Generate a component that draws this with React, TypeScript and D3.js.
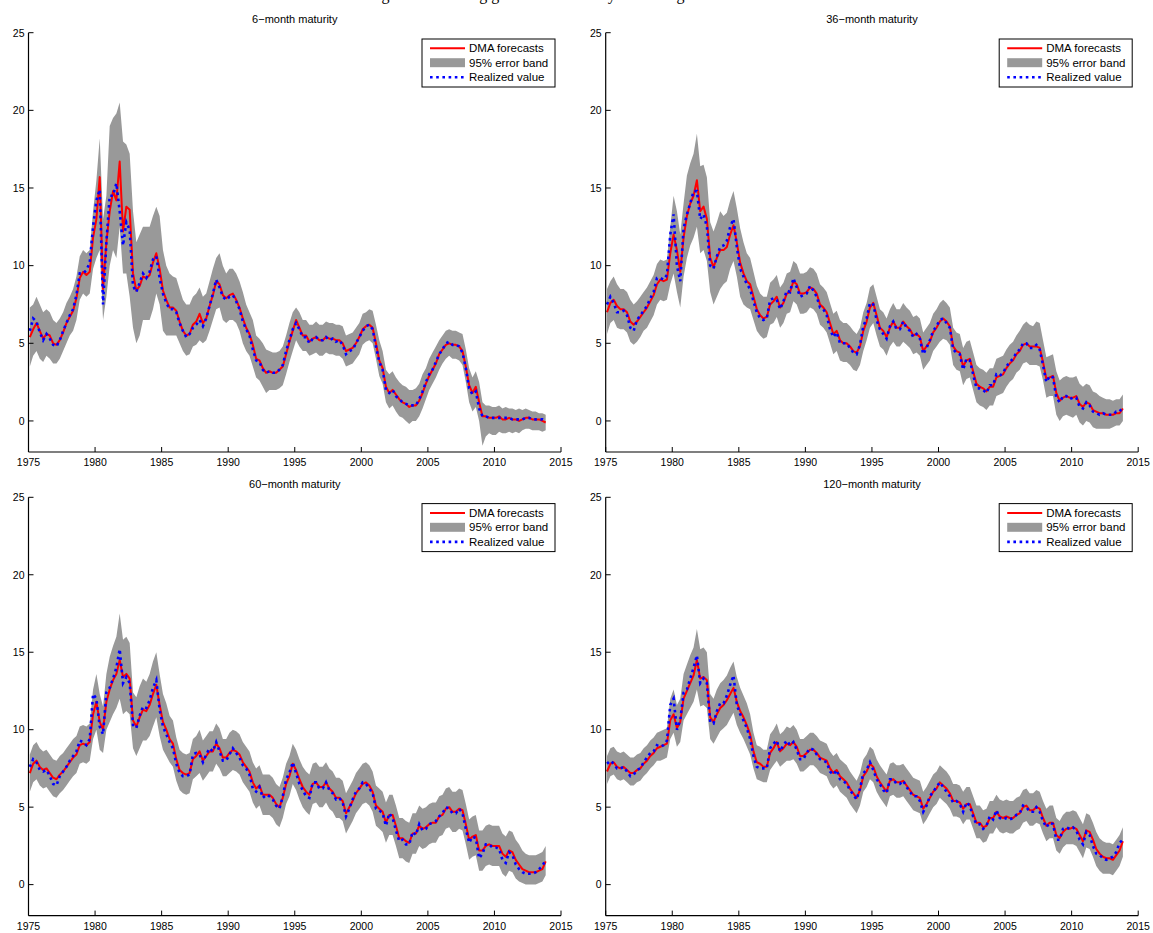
import React from "react";
import * as d3 from "d3";

// Quarterly observation grid: first observation and spacing (years)
const START = 1975.1;
const STEP = 0.25;

const xTickValues = [1975, 1980, 1985, 1990, 1995, 2000, 2005, 2010, 2015];
const yTickValues = [0, 5, 10, 15, 20, 25];
const legendLabels = ["DMA forecasts", "95% error band", "Realized value"];
const panelTitles = ["6\u2212month maturity", "36\u2212month maturity", "60\u2212month maturity", "120\u2212month maturity"];

// ---------- 6-month maturity ----------
const m6Forecast = [
  5.4, 5.9, 6.3, 5.8, 5.3, 5.6, 5.5, 5.0, 4.9, 5.2, 5.7, 6.3, 6.7, 7.1, 7.9, 9.2,
  9.6, 9.4, 9.6, 11.8, 13.0, 15.7, 8.5, 11.5, 13.5, 14.8, 14.2, 16.7, 12.2, 13.8, 13.6, 9.5,
  8.4, 8.7, 9.3, 9.2, 9.4, 10.2, 10.8, 9.8, 8.4, 7.8, 7.3, 7.3, 7.1, 6.4, 5.8, 5.5,
  5.6, 6.2, 6.4, 6.9, 6.3, 6.6, 7.4, 8.1, 9.0, 8.8, 8.1, 7.9, 8.1, 8.2, 7.8, 7.3,
  6.6, 6.0, 5.6, 4.9, 4.0, 3.9, 3.4, 3.1, 3.2, 3.1, 3.1, 3.3, 3.5, 4.3, 5.1, 5.8,
  6.5, 6.0, 5.5, 5.5, 5.1, 5.3, 5.4, 5.2, 5.2, 5.4, 5.3, 5.3, 5.2, 5.2, 5.0, 4.5,
  4.6, 4.7, 5.0, 5.4, 5.9, 6.1, 6.2, 6.0, 5.0, 3.9, 3.4, 2.2, 1.8, 2.0, 1.7, 1.4,
  1.2, 1.1, 0.9, 1.0, 1.0, 1.3, 1.8, 2.4, 2.9, 3.3, 3.7, 4.3, 4.6, 4.9, 5.0, 4.9,
  4.9, 4.8, 4.5, 3.5, 2.3, 1.8, 2.2, 1.2, 0.3, 0.3, 0.2, 0.2, 0.2, 0.3, 0.1, 0.1,
  0.2, 0.1, 0.1, 0.0, 0.1, 0.2, 0.2, 0.1, 0.1, 0.1, 0.0, -0.1,
];
const m6Realized = [
  5.8, 6.6, 6.4, 5.7, 5.2, 5.6, 5.3, 4.9, 4.8, 5.2, 5.8, 6.3, 6.8, 7.2, 8.1, 9.5,
  9.5, 9.7, 10.2, 12.5, 14.2, 14.9, 7.5, 11.5, 14.5, 14.5, 15.3, 13.5, 11.3, 12.8, 12.3, 8.7,
  8.3, 8.9, 9.5, 9.2, 9.6, 10.4, 10.6, 9.2, 8.2, 7.6, 7.2, 7.2, 7.0, 6.3, 5.8, 5.4,
  5.6, 6.0, 6.2, 6.5, 6.1, 6.6, 7.4, 8.2, 9.1, 8.6, 8.0, 7.8, 8.0, 8.1, 7.7, 7.2,
  6.4, 5.9, 5.5, 4.6, 3.9, 3.8, 3.3, 3.1, 3.2, 3.1, 3.1, 3.3, 3.6, 4.5, 5.2, 5.9,
  6.3, 5.9, 5.4, 5.4, 5.0, 5.3, 5.4, 5.2, 5.2, 5.4, 5.2, 5.3, 5.1, 5.2, 4.9, 4.3,
  4.5, 4.6, 5.0, 5.4, 5.8, 6.1, 6.2, 5.9, 4.8, 3.8, 3.3, 2.0, 1.8, 2.0, 1.6, 1.4,
  1.2, 1.1, 1.0, 1.0, 1.0, 1.4, 1.9, 2.5, 3.0, 3.3, 3.8, 4.3, 4.6, 5.0, 5.1, 4.9,
  4.9, 4.8, 4.4, 3.4, 2.1, 1.7, 1.9, 0.8, 0.3, 0.3, 0.2, 0.2, 0.2, 0.2, 0.2, 0.2,
  0.2, 0.1, 0.1, 0.1, 0.1, 0.2, 0.2, 0.1, 0.1, 0.1, 0.1, 0.0,
];
const m6Lower = [
  3.5, 4.2, 4.5, 4.0, 3.8, 4.2, 4.0, 3.7, 3.7, 4.0, 4.5, 5.0, 5.5, 5.8, 6.5, 7.8,
  8.2, 8.0, 8.2, 9.8, 10.5, 11.0, 6.5, 8.0, 10.0, 11.0, 10.5, 12.5, 9.5, 9.5, 8.0, 6.0,
  5.0, 5.5, 6.5, 6.5, 6.5, 7.2, 8.2, 7.5, 5.8, 5.5, 5.5, 5.5, 5.5, 5.0, 4.5, 4.2,
  4.3, 4.8, 4.9, 5.2, 5.0, 5.2, 5.8, 6.5, 7.2, 7.3, 6.5, 6.3, 6.5, 6.5, 6.3, 5.8,
  5.0, 4.5, 4.2, 3.5, 2.8, 2.6, 2.2, 1.8, 2.0, 2.0, 2.0, 2.1, 2.3, 3.0, 3.8, 4.5,
  5.2, 4.8, 4.5, 4.5, 4.2, 4.3, 4.4, 4.2, 4.2, 4.4, 4.3, 4.3, 4.2, 4.2, 4.0, 3.5,
  3.6, 3.7, 4.0, 4.3, 4.9, 5.1, 5.2, 5.0, 4.0, 2.9, 2.4, 1.2, 0.8, 1.0, 0.6, 0.3,
  0.2, 0.0, -0.2, 0.0, 0.0, 0.3, 0.8, 1.4, 2.0, 2.4, 2.8, 3.3, 3.7, 4.0, 4.2, 4.0,
  4.0, 3.9, 3.6, 2.5, 1.2, 0.6, 0.9, 0.0, -1.6, -1.0, -0.8, -0.9, -0.9, -0.7, -0.8, -0.8,
  -0.7, -0.8, -0.7, -0.8, -0.6, -0.5, -0.5, -0.6, -0.6, -0.6, -0.7, -0.6,
];
const m6Upper = [
  7.3, 7.5, 8.0, 7.5, 7.0, 7.2, 7.0, 6.5, 6.3, 6.6, 7.0, 7.6, 8.0, 8.5, 9.3, 10.6,
  11.0, 10.8, 11.0, 13.5, 15.5, 18.2, 13.0, 14.5, 19.0, 19.5, 19.8, 20.5, 18.0, 17.8, 17.2, 13.5,
  11.5, 12.0, 12.5, 12.5, 12.5, 13.2, 13.8, 13.2, 11.0, 10.0, 9.5, 9.3, 9.2, 8.5, 7.8, 7.5,
  7.5, 8.0, 8.2, 8.6, 8.0, 8.2, 9.0, 9.8, 10.5, 10.8, 10.0, 9.5, 9.8, 9.8, 9.5, 9.0,
  8.3, 7.5, 7.0, 6.5, 5.5, 5.3, 5.0, 4.6, 4.5, 4.4, 4.4, 4.5, 4.8, 5.5, 6.3, 7.0,
  7.3, 7.0, 6.5, 6.5, 6.2, 6.2, 6.4, 6.2, 6.2, 6.4, 6.3, 6.3, 6.2, 6.2, 6.1, 5.5,
  5.6, 5.7, 6.0, 6.3, 6.9, 7.0, 7.2, 7.1, 6.2, 5.2, 4.5, 3.3, 3.0, 3.2, 2.8, 2.5,
  2.3, 2.2, 2.0, 2.0, 2.1, 2.4, 3.0, 3.4, 4.0, 4.4, 4.8, 5.2, 5.5, 5.8, 5.9, 5.8,
  5.8, 5.7, 5.6, 4.6, 3.4, 2.8, 3.2, 2.5, 1.2, 1.0, 1.0, 0.9, 0.9, 1.0, 0.8, 0.9,
  0.8, 0.8, 0.7, 0.8, 0.7, 0.8, 0.7, 0.6, 0.6, 0.5, 0.5, 0.4,
];

// ---------- 36-month maturity ----------
const m36Forecast = [
  7.0, 7.6, 7.8, 7.4, 7.2, 7.2, 7.0, 6.4, 6.2, 6.4, 6.7, 7.0, 7.3, 7.7, 8.1, 8.8,
  9.1, 9.0, 9.1, 10.8, 12.0, 11.0, 9.6, 11.8, 13.2, 14.0, 14.5, 15.5, 13.5, 13.8, 13.0, 10.5,
  9.9, 10.5, 11.0, 11.0, 11.2, 12.0, 12.6, 11.5, 10.2, 9.5, 9.0, 8.8, 8.0, 7.2, 6.8, 6.6,
  6.7, 7.5, 7.7, 8.0, 7.3, 7.6, 8.2, 8.3, 9.0, 8.8, 8.2, 8.2, 8.3, 8.6, 8.5, 8.2,
  7.5, 7.3, 7.0, 6.3, 5.6, 5.8, 5.2, 5.0, 5.0, 4.8, 4.5, 4.4, 4.8, 5.8, 6.4, 7.3,
  7.6, 6.8, 6.0, 5.8, 5.4, 6.0, 6.4, 6.0, 6.0, 6.4, 6.1, 5.9, 5.5, 5.6, 5.4, 4.5,
  4.8, 5.1, 5.7, 6.0, 6.4, 6.6, 6.4, 6.1, 4.8, 4.5, 4.4, 3.5, 3.9, 4.0, 3.2, 2.4,
  2.2, 2.1, 1.9, 2.2, 2.2, 2.8, 2.9, 3.0, 3.4, 3.7, 3.9, 4.3, 4.5, 4.9, 5.0, 4.8,
  4.8, 4.8, 4.7, 3.8, 2.7, 2.8, 2.9, 1.8, 1.3, 1.5, 1.6, 1.5, 1.5, 1.6, 1.1, 0.9,
  1.2, 1.1, 0.7, 0.6, 0.5, 0.5, 0.4, 0.4, 0.4, 0.5, 0.5, 0.8,
];
const m36Realized = [
  7.5, 8.0, 7.6, 7.0, 7.0, 7.1, 6.8, 6.0, 5.8, 6.5, 6.8, 7.1, 7.4, 7.9, 8.3, 9.2,
  9.2, 9.1, 9.4, 12.0, 13.3, 10.0, 9.0, 12.4, 13.3, 14.0, 14.8, 14.8, 13.0, 13.3, 12.5, 10.0,
  9.8, 10.6, 11.2, 11.3, 11.6, 12.5, 13.0, 11.2, 9.8, 9.3, 8.8, 8.5, 7.7, 7.0, 6.6, 6.5,
  6.6, 7.8, 7.9, 7.8, 7.2, 7.7, 8.4, 8.3, 9.2, 8.6, 8.0, 8.1, 8.2, 8.7, 8.4, 8.0,
  7.3, 7.2, 6.8, 5.9, 5.4, 5.7, 5.0, 5.0, 5.0, 4.7, 4.4, 4.3, 4.9, 6.1, 6.6, 7.6,
  7.5, 6.5, 5.9, 5.6, 5.3, 6.1, 6.4, 5.9, 5.9, 6.4, 6.0, 5.8, 5.4, 5.6, 5.3, 4.3,
  4.7, 5.2, 5.8, 6.1, 6.5, 6.6, 6.3, 6.0, 4.6, 4.4, 4.3, 3.3, 4.0, 3.9, 3.0, 2.1,
  2.1, 2.0, 1.8, 2.3, 2.3, 3.0, 2.9, 3.1, 3.5, 3.8, 4.0, 4.4, 4.6, 5.0, 5.0, 4.7,
  4.7, 4.9, 4.6, 3.6, 2.5, 2.9, 2.8, 1.5, 1.2, 1.6, 1.6, 1.4, 1.5, 1.5, 0.9, 0.8,
  1.2, 1.0, 0.6, 0.5, 0.4, 0.5, 0.4, 0.4, 0.4, 0.6, 0.6, 0.9,
];
const m36Lower = [
  5.6, 6.3, 6.5, 6.0, 5.9, 5.9, 5.7, 5.1, 4.9, 5.1, 5.4, 5.8, 6.0, 6.4, 6.8, 7.5,
  7.8, 7.7, 7.8, 8.8, 9.5, 8.3, 7.3, 9.3, 10.5, 11.3, 11.8, 12.5, 10.8, 11.0, 10.3, 8.3,
  7.5, 8.0, 8.5, 8.8, 9.0, 9.8, 10.3, 9.3, 8.0, 7.5, 7.3, 7.2, 6.5, 5.8, 5.5, 5.3,
  5.4, 6.2, 6.3, 6.7, 6.0, 6.3, 6.9, 7.0, 7.7, 7.5, 6.9, 6.9, 7.0, 7.3, 7.2, 6.9,
  6.2, 6.0, 5.7, 5.0, 4.3, 4.5, 3.9, 3.8, 3.8, 3.6, 3.3, 3.2, 3.6, 4.5, 5.2, 6.0,
  6.3, 5.5, 4.8, 4.6, 4.2, 4.8, 5.1, 4.8, 4.8, 5.1, 4.9, 4.7, 4.3, 4.4, 4.2, 3.3,
  3.6, 3.9, 4.5, 4.8, 5.1, 5.3, 5.2, 4.9, 3.6, 3.3, 3.2, 2.3, 2.7, 2.8, 2.0, 1.2,
  1.0, 0.9, 0.7, 1.0, 1.0, 1.6, 1.7, 1.8, 2.2, 2.5, 2.7, 3.1, 3.3, 3.7, 3.8, 3.6,
  3.6, 3.6, 3.5, 2.6, 1.5, 1.6, 1.6, 0.4, 0.0, 0.3, 0.4, 0.3, 0.2, 0.4, -0.1, -0.3,
  0.0, -0.1, -0.4, -0.5, -0.5, -0.5, -0.5, -0.5, -0.4, -0.3, -0.3, 0.0,
];
const m36Upper = [
  8.5, 9.0, 9.3, 8.8, 8.5, 8.5, 8.3, 7.8, 7.5, 7.7, 8.0, 8.3, 8.6, 9.0, 9.4, 10.1,
  10.4, 10.3, 10.4, 12.5, 14.5, 13.5, 12.0, 14.0, 15.8, 16.6, 17.2, 18.5, 16.4, 16.5, 15.7, 12.8,
  12.2, 12.8, 13.5, 13.2, 13.4, 14.2, 14.8, 13.7, 12.4, 11.5, 10.8, 10.5, 9.6, 8.7, 8.2, 8.0,
  8.0, 8.9, 9.1, 9.4, 8.6, 8.9, 9.5, 9.6, 10.3, 10.1, 9.5, 9.5, 9.6, 9.9, 9.8, 9.5,
  8.8, 8.6, 8.3, 7.6, 6.9, 7.1, 6.5, 6.3, 6.3, 6.1, 5.8, 5.6, 6.0, 7.0, 7.6, 8.6,
  8.8, 8.0, 7.2, 7.0, 6.6, 7.2, 7.6, 7.2, 7.2, 7.6, 7.3, 7.1, 6.7, 6.8, 6.6, 5.7,
  6.0, 6.3, 6.9, 7.2, 7.6, 7.8, 7.6, 7.3, 6.0, 5.7, 5.6, 4.7, 5.1, 5.2, 4.4, 3.6,
  3.4, 3.3, 3.1, 3.4, 3.4, 4.0, 4.1, 4.2, 4.6, 4.9, 5.1, 5.5, 5.8, 6.2, 6.4, 6.2,
  6.1, 6.4, 6.3, 5.2, 4.1, 4.2, 4.3, 3.2, 2.6, 2.8, 2.9, 2.8, 2.8, 2.9, 2.4, 2.2,
  2.4, 2.3, 1.9, 1.8, 1.6, 1.5, 1.4, 1.4, 1.3, 1.4, 1.4, 1.7,
];

// ---------- 60-month maturity ----------
const m60Forecast = [
  7.2, 7.8, 8.0, 7.6, 7.4, 7.5, 7.2, 6.9, 6.8, 7.1, 7.3, 7.6, 7.9, 8.2, 8.4, 9.0,
  9.1, 9.0, 9.2, 11.0, 11.8, 10.5, 10.0, 11.8, 12.6, 13.2, 13.6, 14.5, 13.4, 13.6, 13.3, 10.6,
  10.2, 10.8, 11.3, 11.2, 11.6, 12.3, 12.9, 11.6, 10.5, 10.0, 9.4, 9.1, 8.1, 7.4, 7.2, 7.1,
  7.2, 8.1, 8.3, 8.6, 8.0, 8.3, 8.6, 8.6, 9.1, 8.8, 8.2, 8.2, 8.5, 8.7, 8.6, 8.4,
  7.9, 7.6, 7.3, 6.6, 6.2, 6.4, 5.8, 5.8, 5.8, 5.6, 5.2, 5.0, 5.6, 6.5, 7.0, 7.8,
  7.4, 6.8, 6.3, 6.0, 5.8, 6.5, 6.6, 6.3, 6.3, 6.6, 6.2, 6.0, 5.6, 5.6, 5.4, 4.6,
  5.0, 5.4, 5.9, 6.2, 6.5, 6.6, 6.4, 6.0, 5.1, 4.9, 4.7, 4.0, 4.5, 4.5, 3.8, 3.0,
  3.0, 2.8, 2.7, 3.3, 3.3, 3.8, 3.6, 3.7, 3.9, 4.0, 4.0, 4.4, 4.5, 4.9, 5.0, 4.7,
  4.7, 4.9, 4.8, 3.9, 2.9, 3.1, 3.2, 2.2, 2.2, 2.5, 2.6, 2.5, 2.5, 2.5, 2.0, 1.8,
  2.2, 2.1, 1.6, 1.3, 1.0, 0.9, 0.8, 0.8, 0.8, 0.9, 1.0, 1.5,
];
const m60Realized = [
  7.6, 8.1, 7.9, 7.4, 7.3, 7.4, 7.0, 6.5, 6.4, 7.0, 7.3, 7.6, 8.0, 8.3, 8.6, 9.3,
  9.2, 9.0, 9.4, 12.3, 12.0, 10.2, 9.7, 12.4, 12.7, 13.3, 14.0, 15.2, 13.0, 13.4, 13.0, 10.3,
  10.1, 10.9, 11.5, 11.4, 11.9, 12.7, 13.2, 11.3, 10.2, 9.7, 9.2, 8.8, 7.8, 7.2, 7.0, 7.0,
  7.1, 8.4, 8.5, 8.4, 7.9, 8.4, 8.8, 8.6, 9.2, 8.6, 8.0, 8.0, 8.4, 8.8, 8.5, 8.2,
  7.7, 7.5, 7.1, 6.2, 6.0, 6.3, 5.6, 5.8, 5.7, 5.5, 5.1, 4.9, 5.7, 6.8, 7.2, 7.9,
  7.2, 6.5, 6.1, 5.7, 5.6, 6.6, 6.6, 6.2, 6.2, 6.6, 6.1, 5.9, 5.5, 5.6, 5.3, 4.4,
  4.9, 5.5, 6.0, 6.2, 6.6, 6.5, 6.2, 5.9, 4.9, 4.8, 4.6, 3.8, 4.6, 4.3, 3.5, 2.8,
  2.9, 2.6, 2.6, 3.4, 3.2, 3.9, 3.5, 3.6, 3.9, 4.0, 4.1, 4.4, 4.6, 5.0, 4.9, 4.6,
  4.6, 4.9, 4.6, 3.6, 2.7, 3.1, 3.0, 1.7, 2.0, 2.6, 2.6, 2.4, 2.4, 2.3, 1.6, 1.4,
  2.1, 1.9, 1.3, 1.0, 0.8, 0.7, 0.7, 0.7, 0.8, 1.0, 1.2, 1.6,
];
const m60Lower = [
  6.0, 6.6, 6.8, 6.4, 6.2, 6.3, 6.0, 5.7, 5.6, 5.9, 6.1, 6.4, 6.7, 7.0, 7.2, 7.8,
  7.9, 7.8, 8.0, 9.4, 10.0, 8.7, 8.5, 10.0, 10.5, 11.0, 11.4, 12.0, 11.0, 11.2, 11.0, 8.8,
  8.3, 8.8, 9.3, 9.3, 9.6, 10.2, 10.8, 9.6, 8.7, 8.3, 7.9, 7.6, 6.7, 6.1, 5.9, 5.8,
  5.9, 6.8, 7.0, 7.2, 6.7, 7.0, 7.3, 7.3, 7.8, 7.5, 7.0, 7.0, 7.2, 7.4, 7.3, 7.1,
  6.6, 6.3, 6.0, 5.3, 4.9, 5.1, 4.5, 4.5, 4.5, 4.3, 3.9, 3.7, 4.3, 5.2, 5.7, 6.5,
  6.1, 5.5, 5.0, 4.7, 4.5, 5.2, 5.3, 5.0, 5.0, 5.3, 4.9, 4.7, 4.3, 4.3, 4.1, 3.3,
  3.7, 4.1, 4.6, 4.9, 5.2, 5.3, 5.1, 4.7, 3.8, 3.6, 3.4, 2.7, 3.2, 3.2, 2.5, 1.7,
  1.7, 1.5, 1.4, 2.0, 2.0, 2.5, 2.3, 2.4, 2.6, 2.7, 2.7, 3.1, 3.2, 3.6, 3.7, 3.4,
  3.4, 3.6, 3.5, 2.6, 1.6, 1.8, 1.9, 0.9, 0.9, 1.2, 1.3, 1.2, 1.2, 1.2, 0.7, 0.5,
  0.9, 0.8, 0.4, 0.2, 0.1, 0.0, 0.0, 0.0, 0.0, 0.1, 0.2, 0.6,
];
const m60Upper = [
  8.4, 9.0, 9.2, 8.8, 8.6, 8.7, 8.4, 8.1, 8.0, 8.3, 8.5, 8.8, 9.1, 9.4, 9.6, 10.2,
  10.3, 10.2, 10.4, 12.6, 13.6, 12.3, 11.5, 13.6, 14.7, 15.4, 16.0, 17.5, 15.8, 16.0, 15.6, 12.4,
  12.1, 12.8, 13.3, 13.1, 13.6, 14.4, 15.0, 13.6, 12.3, 11.7, 10.9, 10.6, 9.5, 8.7, 8.5, 8.4,
  8.5, 9.4, 9.6, 10.0, 9.3, 9.6, 9.9, 9.9, 10.4, 10.1, 9.4, 9.4, 9.8, 10.0, 9.9, 9.7,
  9.2, 8.9, 8.6, 7.9, 7.5, 7.7, 7.1, 7.1, 7.1, 6.9, 6.5, 6.3, 6.9, 7.8, 8.3, 9.1,
  8.7, 8.1, 7.6, 7.3, 7.1, 7.8, 7.9, 7.6, 7.6, 7.9, 7.5, 7.3, 6.9, 6.9, 6.7, 5.9,
  6.3, 6.7, 7.2, 7.5, 7.8, 7.9, 7.7, 7.3, 6.4, 6.2, 6.0, 5.3, 5.8, 5.8, 5.1, 4.3,
  4.3, 4.1, 4.0, 4.6, 4.6, 5.1, 4.9, 5.0, 5.2, 5.3, 5.3, 5.7, 5.8, 6.2, 6.3, 6.0,
  6.0, 6.2, 6.1, 5.2, 4.2, 4.4, 4.5, 3.5, 3.5, 3.8, 3.9, 3.8, 3.8, 3.8, 3.3, 3.1,
  3.5, 3.4, 2.9, 2.6, 2.2, 2.0, 1.9, 1.9, 1.9, 2.0, 2.1, 2.5,
];

// ---------- 120-month maturity ----------
const m120Forecast = [
  7.3, 7.8, 7.9, 7.6, 7.5, 7.6, 7.4, 7.2, 7.2, 7.4, 7.5, 7.8, 8.0, 8.3, 8.5, 8.8,
  8.9, 9.0, 9.1, 10.6, 11.0, 10.1, 10.5, 12.0, 12.5, 13.0, 13.5, 14.5, 13.3, 13.4, 13.2, 10.8,
  10.5, 11.0, 11.4, 11.6, 11.9, 12.3, 12.7, 11.8, 11.2, 10.8, 10.3, 9.7, 8.6, 7.9, 7.8, 7.6,
  7.6, 8.5, 8.8, 9.2, 8.6, 8.8, 9.1, 9.0, 9.2, 8.9, 8.3, 8.3, 8.5, 8.7, 8.7, 8.5,
  8.2, 8.1, 8.0, 7.5, 7.2, 7.4, 7.0, 6.8, 6.6, 6.2, 5.9, 5.6, 6.1, 7.0, 7.3, 7.8,
  7.6, 7.0, 6.6, 6.3, 6.0, 6.7, 6.8, 6.6, 6.6, 6.7, 6.4, 6.1, 5.8, 5.7, 5.6, 4.9,
  5.2, 5.6, 6.0, 6.2, 6.6, 6.4, 6.2, 5.9, 5.4, 5.4, 5.3, 4.9, 5.2, 5.2, 4.6, 4.0,
  4.0, 3.7, 3.8, 4.3, 4.3, 4.7, 4.4, 4.3, 4.4, 4.3, 4.3, 4.5, 4.6, 5.0, 5.1, 4.8,
  4.8, 5.0, 4.9, 4.3, 3.8, 4.0, 4.0, 3.2, 3.0, 3.4, 3.6, 3.6, 3.7, 3.6, 3.2, 2.8,
  3.5, 3.4, 2.9, 2.3, 2.0, 1.8, 1.7, 1.7, 1.6, 1.9, 2.2, 2.8,
];
const m120Realized = [
  7.8, 8.0, 7.8, 7.5, 7.5, 7.6, 7.3, 7.0, 7.1, 7.4, 7.5, 7.9, 8.2, 8.5, 8.6, 9.0,
  8.9, 9.0, 9.3, 11.6, 12.0, 10.0, 10.6, 12.4, 12.6, 13.3, 14.0, 14.8, 13.0, 13.3, 13.0, 10.5,
  10.4, 11.2, 11.7, 11.7, 12.2, 12.9, 13.5, 11.6, 11.0, 10.6, 10.1, 9.4, 8.3, 7.6, 7.5, 7.5,
  7.5, 8.8, 9.1, 9.3, 8.6, 9.0, 9.3, 9.0, 9.2, 8.7, 8.1, 8.1, 8.5, 8.8, 8.7, 8.4,
  8.1, 8.0, 7.9, 7.3, 7.1, 7.4, 6.8, 6.7, 6.5, 6.1, 5.8, 5.5, 6.2, 7.2, 7.4, 7.9,
  7.4, 6.8, 6.5, 6.1, 5.9, 6.8, 6.8, 6.5, 6.5, 6.7, 6.3, 6.0, 5.7, 5.7, 5.4, 4.7,
  5.1, 5.7, 6.0, 6.3, 6.6, 6.3, 6.0, 5.7, 5.3, 5.4, 5.2, 4.7, 5.3, 5.1, 4.4, 3.9,
  3.9, 3.6, 3.8, 4.4, 4.2, 4.8, 4.3, 4.2, 4.3, 4.2, 4.3, 4.5, 4.6, 5.1, 5.0, 4.7,
  4.7, 5.0, 4.7, 4.1, 3.7, 4.0, 3.9, 2.9, 2.9, 3.6, 3.7, 3.6, 3.7, 3.5, 2.9, 2.6,
  3.4, 3.2, 2.5, 2.0, 1.9, 1.7, 1.6, 1.7, 1.8, 2.1, 2.7, 2.9,
];
const m120Lower = [
  6.5, 7.0, 7.1, 6.8, 6.7, 6.8, 6.6, 6.4, 6.4, 6.6, 6.7, 7.0, 7.2, 7.5, 7.7, 8.0,
  8.0, 8.1, 8.2, 9.4, 9.8, 8.9, 9.2, 10.6, 11.0, 11.4, 11.8, 12.6, 11.5, 11.6, 11.4, 9.4,
  9.1, 9.5, 9.9, 10.1, 10.3, 10.7, 11.1, 10.3, 9.8, 9.4, 8.9, 8.4, 7.5, 6.8, 6.7, 6.6,
  6.6, 7.4, 7.7, 8.0, 7.6, 7.8, 8.0, 8.0, 8.1, 7.8, 7.3, 7.3, 7.5, 7.7, 7.7, 7.5,
  7.2, 7.1, 7.0, 6.5, 6.2, 6.4, 6.0, 5.8, 5.6, 5.2, 4.9, 4.6, 5.1, 6.0, 6.3, 6.8,
  6.6, 6.0, 5.6, 5.3, 5.0, 5.7, 5.8, 5.6, 5.6, 5.7, 5.4, 5.1, 4.8, 4.7, 4.6, 3.9,
  4.2, 4.6, 5.0, 5.2, 5.6, 5.4, 5.2, 4.9, 4.4, 4.4, 4.3, 3.9, 4.2, 4.2, 3.6, 3.0,
  3.0, 2.7, 2.8, 3.3, 3.3, 3.7, 3.4, 3.3, 3.4, 3.3, 3.3, 3.5, 3.6, 4.0, 4.1, 3.8,
  3.8, 4.0, 3.9, 3.3, 2.8, 3.0, 3.0, 2.2, 2.0, 2.4, 2.6, 2.6, 2.6, 2.5, 2.1, 1.7,
  2.4, 2.3, 1.8, 1.2, 0.9, 0.7, 0.7, 0.7, 0.6, 0.9, 1.2, 1.8,
];
const m120Upper = [
  8.3, 8.8, 8.9, 8.6, 8.5, 8.6, 8.4, 8.2, 8.2, 8.4, 8.5, 8.8, 9.0, 9.3, 9.5, 9.8,
  9.9, 10.0, 10.1, 12.0, 12.6, 11.6, 12.0, 13.6, 14.2, 14.8, 15.3, 16.5, 15.2, 15.3, 15.0, 12.3,
  12.0, 12.6, 13.0, 13.2, 13.5, 14.0, 14.4, 13.4, 12.7, 12.2, 11.7, 11.0, 9.8, 9.0, 8.9, 8.7,
  8.7, 9.7, 10.0, 10.4, 9.7, 9.9, 10.2, 10.1, 10.3, 10.0, 9.4, 9.4, 9.6, 9.8, 9.8, 9.6,
  9.3, 9.2, 9.1, 8.6, 8.3, 8.5, 8.1, 7.9, 7.7, 7.3, 7.0, 6.7, 7.2, 8.1, 8.4, 8.9,
  8.7, 8.1, 7.7, 7.4, 7.1, 7.8, 7.9, 7.7, 7.7, 7.8, 7.5, 7.2, 6.9, 6.8, 6.7, 6.0,
  6.3, 6.7, 7.1, 7.3, 7.7, 7.5, 7.3, 7.0, 6.5, 6.5, 6.4, 6.0, 6.3, 6.3, 5.7, 5.1,
  5.1, 4.8, 4.9, 5.4, 5.4, 5.8, 5.5, 5.4, 5.5, 5.4, 5.4, 5.6, 5.7, 6.1, 6.2, 5.9,
  5.9, 6.1, 6.0, 5.4, 4.9, 5.1, 5.1, 4.3, 4.1, 4.5, 4.7, 4.7, 4.8, 4.7, 4.3, 3.9,
  4.6, 4.5, 4.0, 3.4, 3.0, 2.8, 2.7, 2.7, 2.6, 2.9, 3.2, 3.7,
];

const panels = [
  { title: panelTitles[0], fc: m6Forecast, rv: m6Realized, lo: m6Lower, hi: m6Upper, col: 0, row: 0 },
  { title: panelTitles[1], fc: m36Forecast, rv: m36Realized, lo: m36Lower, hi: m36Upper, col: 1, row: 0 },
  { title: panelTitles[2], fc: m60Forecast, rv: m60Realized, lo: m60Lower, hi: m60Upper, col: 0, row: 1 },
  { title: panelTitles[3], fc: m120Forecast, rv: m120Realized, lo: m120Lower, hi: m120Upper, col: 1, row: 1 },
];

const W = 1153;
const H = 933;
const colX = [
  [28.5, 561],
  [605.7, 1138.2],
];
const rowY = [
  [32.7, 452],
  [497.3, 915.6],
];

const FONT = "'Liberation Sans', Arial, Helvetica, sans-serif";
const RED = "#ff0000";
const BLUE = "#0000ff";
const GREY = "#999999";
const DOTS = "2.6 3.6";

type PanelProps = {
  title: string;
  fc: number[];
  rv: number[];
  lo: number[];
  hi: number[];
  col: number;
  row: number;
};

function Panel({ title, fc, rv, lo, hi, col, row }: PanelProps) {
  const [x0, x1] = colX[col];
  const [yTop, yBot] = rowY[row];
  const x = d3.scaleLinear().domain([1975, 2015]).range([x0, x1]);
  const y = d3.scaleLinear().domain([-2, 25]).range([yBot, yTop]);
  const dates = fc.map((_, i) => START + i * STEP);

  const band = d3
    .area<number>()
    .x((_, i) => x(dates[i]))
    .y0((_, i) => y(lo[i]))
    .y1((_, i) => y(hi[i]))(hi) as string;
  const path = (vals: number[]) =>
    d3
      .line<number>()
      .x((_, i) => x(dates[i]))
      .y((d) => y(d))(vals) as string;

  const tick = 5;
  const lgW = 133;
  const lgH = 48;
  const lgX = x1 - 6 - lgW;
  const lgY = yTop + 6.3;
  const rowsY = [9.3, 23.7, 38.3];

  return (
    <g>
      <text x={(x0 + x1) / 2} y={yTop - 9.7} textAnchor="middle" fontSize={11} fontFamily={FONT}>
        {title}
      </text>
      <path d={band} fill={GREY} stroke="none" />
      <path d={path(fc)} fill="none" stroke={RED} strokeWidth={2} strokeLinejoin="round" />
      <path d={path(rv)} fill="none" stroke={BLUE} strokeWidth={2.6} strokeDasharray={DOTS} />

      {/* axes: left and bottom only, ticks pointing inward */}
      <line x1={x0} x2={x0} y1={yTop} y2={yBot} stroke="#000" strokeWidth={1.2} />
      <line x1={x0} x2={x1} y1={yBot} y2={yBot} stroke="#000" strokeWidth={1.2} />
      {yTickValues.map((v) => (
        <g key={"y" + v}>
          <line x1={x0} x2={x0 + tick} y1={y(v)} y2={y(v)} stroke="#000" strokeWidth={1} />
          <text x={x0 - 4} y={y(v) + 3.8} textAnchor="end" fontSize={10.5} fontFamily={FONT}>
            {v}
          </text>
        </g>
      ))}
      {xTickValues.map((v) => (
        <g key={"x" + v}>
          <line x1={x(v)} x2={x(v)} y1={yBot} y2={yBot - tick} stroke="#000" strokeWidth={1} />
          <text x={x(v)} y={yBot + 14} textAnchor="middle" fontSize={10.5} fontFamily={FONT}>
            {v}
          </text>
        </g>
      ))}

      {/* legend */}
      <rect x={lgX} y={lgY} width={lgW} height={lgH} fill="#fff" stroke="#000" strokeWidth={1} />
      <line x1={lgX + 8} x2={lgX + 43} y1={lgY + rowsY[0]} y2={lgY + rowsY[0]} stroke={RED} strokeWidth={2} />
      <rect x={lgX + 8} y={lgY + rowsY[1] - 4.5} width={35} height={9} fill={GREY} />
      <line
        x1={lgX + 8}
        x2={lgX + 43}
        y1={lgY + rowsY[2]}
        y2={lgY + rowsY[2]}
        stroke={BLUE}
        strokeWidth={2.6}
        strokeDasharray={DOTS}
      />
      {legendLabels.map((lab, i) => (
        <text key={lab} x={lgX + 47} y={lgY + rowsY[i] + 4} fontSize={11.5} fontFamily={FONT}>
          {lab}
        </text>
      ))}
    </g>
  );
}

export default function App() {
  return (
    <svg
      width={W}
      height={H}
      viewBox={`0 0 ${W} ${H}`}
      style={{ position: "absolute", left: 0, top: 0, background: "#fff" }}
    >
      <rect x={0} y={0} width={W} height={H} fill="#fff" />
      {/* figure caption sits above the page edge; only its descenders show */}
      <text
        x={577}
        y={-0.5}
        textAnchor="middle"
        fontSize={16}
        fontFamily="'Liberation Serif', 'Times New Roman', serif"
      >
        Figure 4: Tracking government bond yields using DMA forecasts
      </text>
      {panels.map((p) => (
        <Panel key={p.title} {...p} />
      ))}
    </svg>
  );
}
